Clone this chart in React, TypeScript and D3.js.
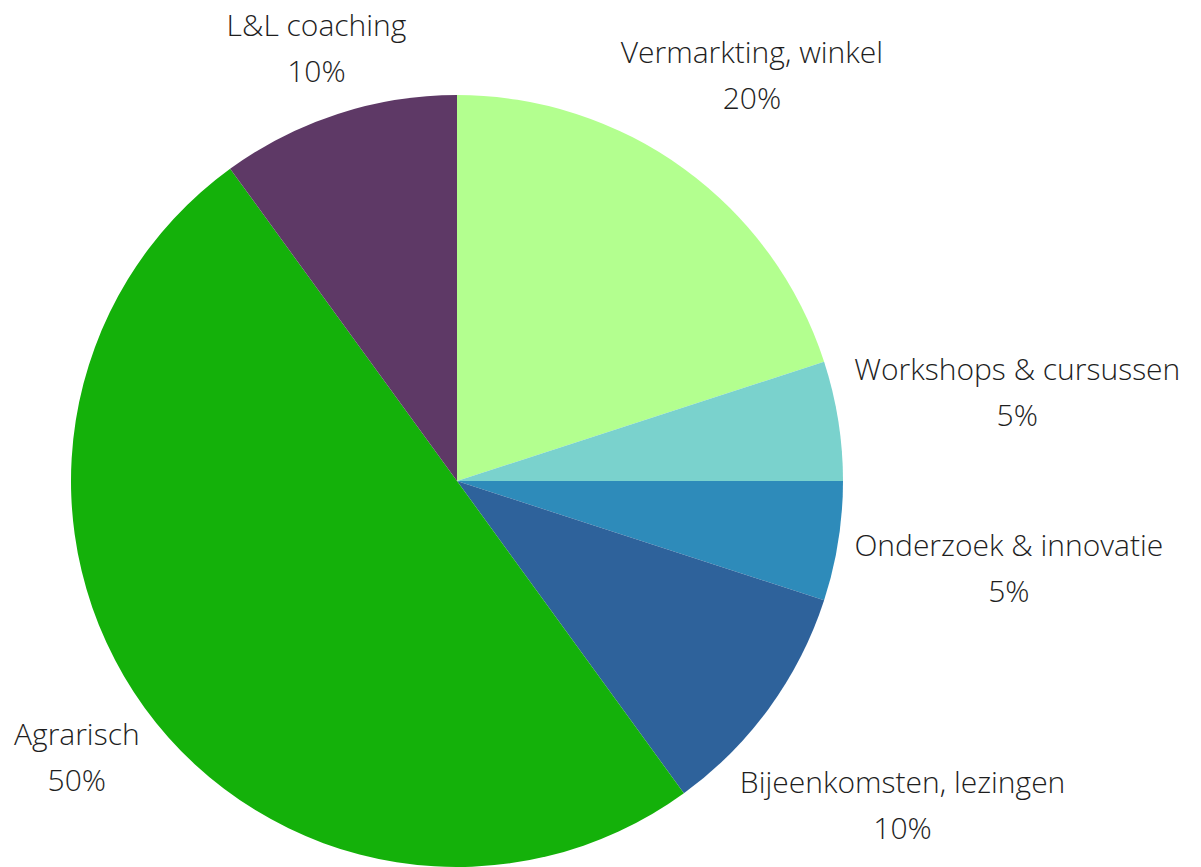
import React, { useEffect, useRef } from "react";
import * as d3 from "d3";

const categories = [
  "Vermarkting, winkel",
  "Workshops & cursussen",
  "Onderzoek & innovatie",
  "Bijeenkomsten, lezingen",
  "Agrarisch",
  "L&L coaching",
];
const values = [20, 5, 5, 10, 50, 10];
const colors = ["#b3ff8f", "#7ad2cd", "#2e8bba", "#2e629b", "#14b10a", "#5e3966"];

const W = 1201;
const H = 867;

export default function App() {
  const ref = useRef<SVGSVGElement>(null);

  useEffect(() => {
    const svg = d3.select(ref.current);
    svg.selectAll("*").remove();
    const cx = 457;
    const cy = 481;
    const r = 386;
    const g = svg.append("g").attr("transform", `translate(${cx},${cy})`);
    const data = categories.map((c, i) => ({ c, v: values[i], col: colors[i] }));
    const pie = d3.pie<any>().value((d) => d.v).sort(null);
    const arcs = pie(data);
    const arc = d3.arc<any>().innerRadius(0).outerRadius(r);

    g.selectAll("path")
      .data(arcs)
      .join("path")
      .attr("d", arc as any)
      .attr("fill", (d: any) => d.data.col);

    const fs = 30;
    const lineGap = 46;
    arcs.forEach((a: any) => {
      const mid = (a.startAngle + a.endAngle) / 2;
      const t = g
        .append("text")
        .attr("text-anchor", "middle")
        .attr("font-family", "'Open Sans', sans-serif")
        .attr("font-weight", 300)
        .attr("font-size", fs)
        .attr("fill", "#1e1e1e");
      t.append("tspan").attr("x", 0).attr("y", 0).text(a.data.c);
      t.append("tspan").attr("x", 0).attr("y", lineGap).text(`${a.data.v}%`);
      const bb = (t.node() as SVGTextElement).getBBox();
      const hw = bb.width / 2;
      const top = -0.72 * fs;
      const bottom = lineGap;
      const hh = (bottom - top) / 2;
      const bcy = (top + bottom) / 2;
      const s = Math.abs(Math.sin(mid));
      const c = Math.abs(Math.cos(mid));
      const pad = 6 + 9 * s;
      const dist = r + pad + s * hw + c * hh;
      const x = Math.sin(mid) * dist;
      const y = -Math.cos(mid) * dist - bcy;
      t.attr("transform", `translate(${x},${y})`);
    });
  }, []);

  return (
    <svg
      ref={ref}
      width={W}
      height={H}
      style={{ position: "absolute", left: 0, top: 0, background: "#fff" }}
    />
  );
}
